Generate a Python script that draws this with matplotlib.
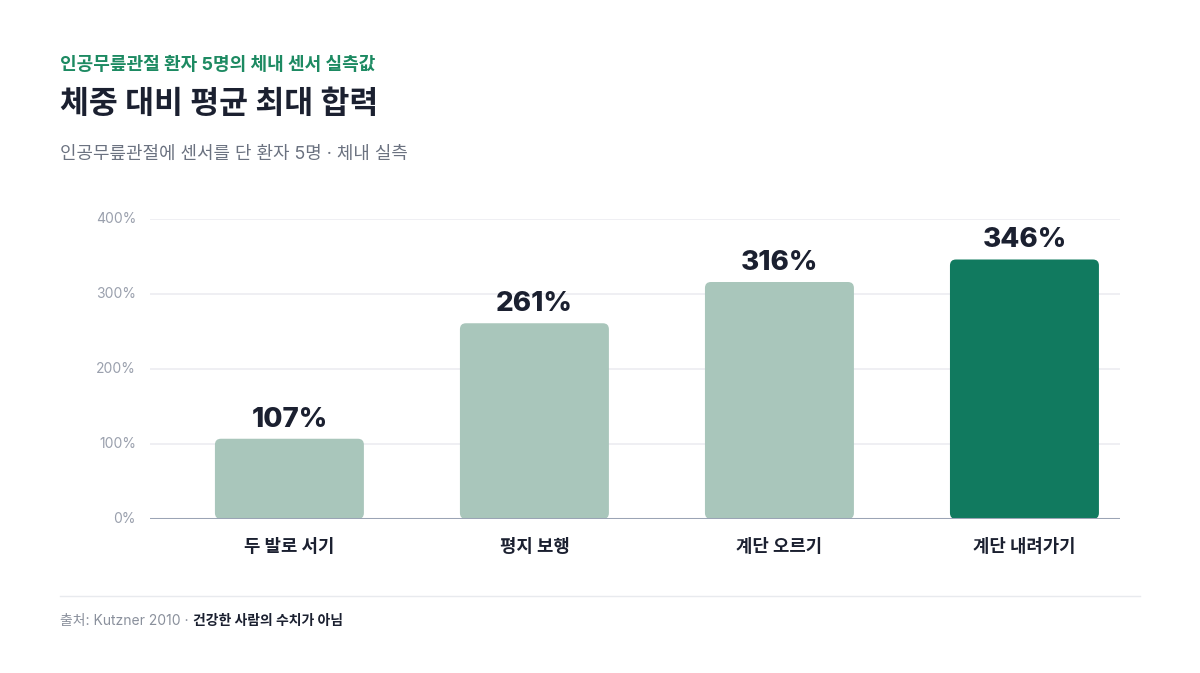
import matplotlib

matplotlib.use("Agg")
import matplotlib.pyplot as plt
from matplotlib.patches import FancyBboxPatch
from matplotlib.lines import Line2D

FAM = ["Inter", "Noto Sans CJK KR", "DejaVu Sans"]
plt.rcParams["font.family"] = FAM

categories = ["두 발로 서기", "평지 보행", "계단 오르기", "계단 내려가기"]
values = [107, 261, 316, 346]
highlight = [False, False, False, True]
yticks = [0, 100, 200, 300, 400]

DARK = "#1b2030"
GREY = "#6b7280"
LIGHT_BAR = "#a9c6bb"
DARK_BAR = "#117a5f"

W, H = 1200, 673
fig = plt.figure(figsize=(W / 100, H / 100), dpi=100)
fig.patch.set_facecolor("white")

# plot area in pixels: x 150..1120, y 219 (400%)..519 (0%)
ax = fig.add_axes([150 / W, 1 - 519 / H, 970 / W, 300 / H])
ax.set_xlim(-0.569, 3.390)
ax.set_ylim(0, 400)

bar_w = 0.608
px_x = 245.0  # px per category unit
px_y = 0.75   # px per percent
for i, (v, hl) in enumerate(zip(values, highlight)):
    patch = FancyBboxPatch(
        (i - bar_w / 2, 0), bar_w, v,
        boxstyle="round,pad=0,rounding_size=%f" % (6 / px_x),
        mutation_aspect=px_x / px_y,
        facecolor=DARK_BAR if hl else LIGHT_BAR,
        edgecolor="none", zorder=2,
    )
    ax.add_patch(patch)
    ax.text(i, v + 12 / px_y, f"{v}%", ha="center", va="baseline",
            fontsize=20, fontweight=800, color=DARK, zorder=3, clip_on=False)

for t in yticks[1:]:
    ax.axhline(t, color="#ececf1", lw=1.2, zorder=1)
ax.axhline(0, color="#9ba4b5", lw=2.2, zorder=4)

for s in ax.spines.values():
    s.set_visible(False)
ax.set_xticks([])
ax.set_yticks([])
for t in yticks:
    ax.text(-0.569 - 14 / px_x, t, f"{t}%", ha="right", va="center",
            fontsize=10, color="#9aa0ad")
for i, c in enumerate(categories):
    ax.text(i, -29 / px_y, c, ha="center", va="center", fontsize=12.8,
            fontweight="bold", color=DARK)

# header texts
fig.text(60 / W, 1 - 65 / H, "인공무릎관절 환자 5명의 체내 센서 실측값", ha="left", va="center",
         fontsize=13, fontweight="bold", color="#1d8a62")
fig.text(60 / W, 1 - 104 / H, "체중 대비 평균 최대 합력", ha="left", va="center",
         fontsize=22.6, fontweight="bold", color=DARK)
fig.text(60 / W, 1 - 154 / H, "인공무릎관절에 센서를 단 환자 5명 · 체내 실측", ha="left", va="center",
         fontsize=12.9, color=GREY)

# footer
fig.add_artist(Line2D([60 / W, 1140 / W], [1 - 596 / H] * 2, color="#e8eaee", lw=1))
src = fig.text(60 / W, 1 - 621 / H, "출처: Kutzner 2010 · ", ha="left", va="center",
               fontsize=10, color="#8a909c")
fig.canvas.draw()
bb = src.get_window_extent()
fig.text(bb.x1 / W, 1 - 621 / H, "건강한 사람의 수치가 아님", ha="left", va="center",
         fontsize=10, fontweight="bold", color=DARK)

fig.savefig("out.png", dpi=100)
